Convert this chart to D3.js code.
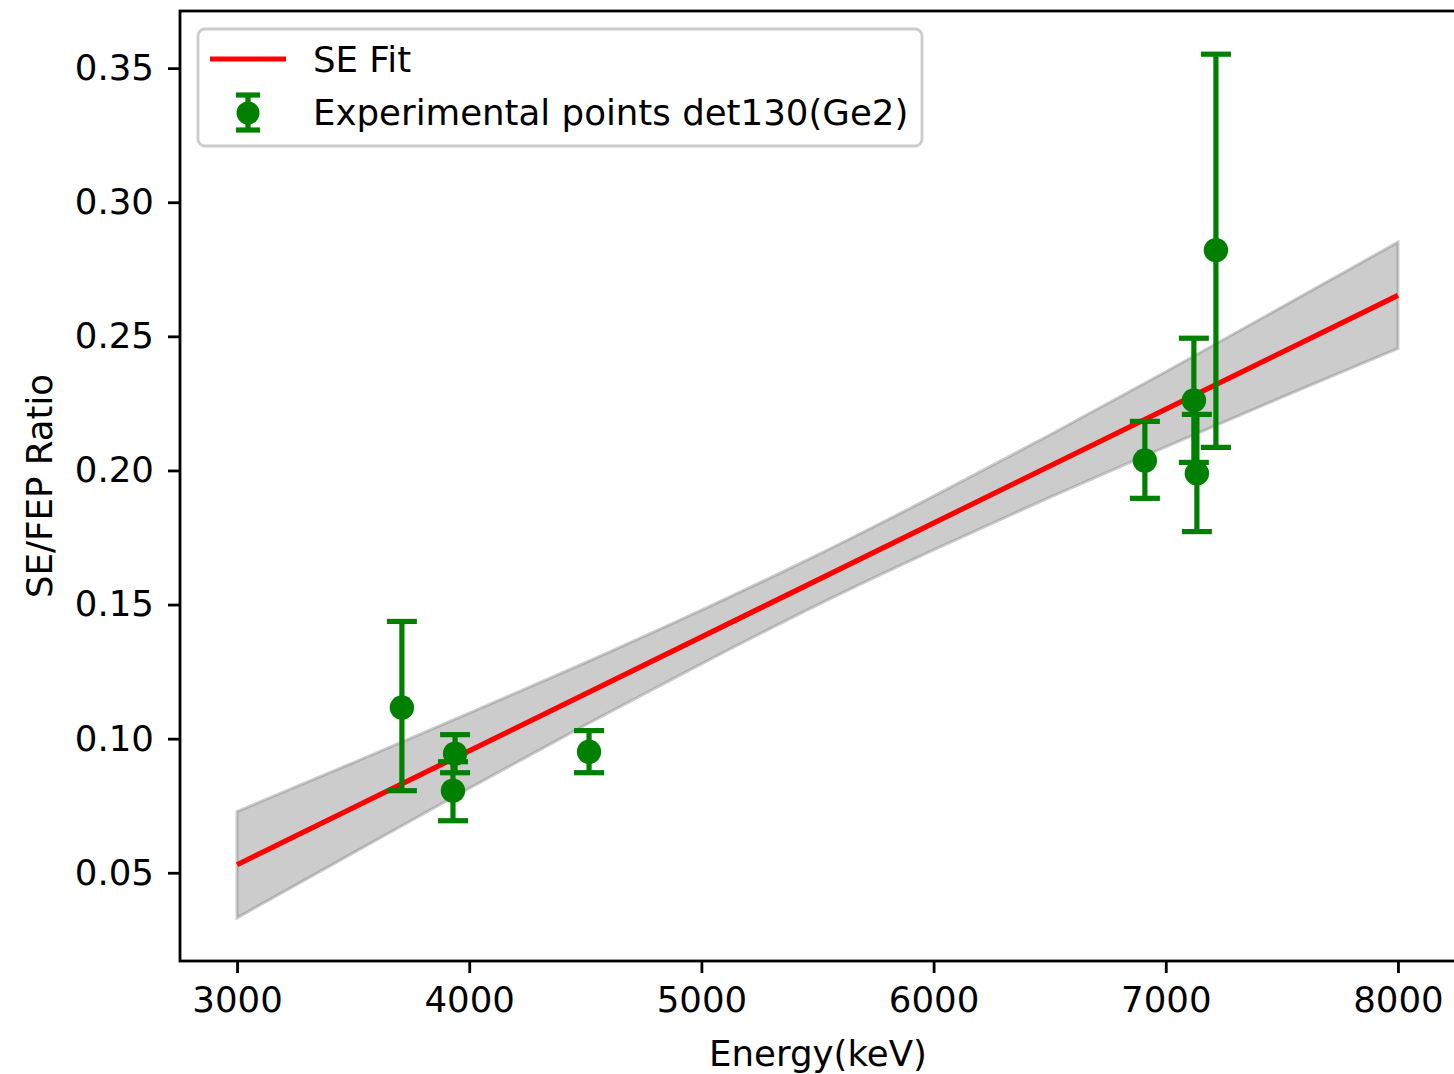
<!DOCTYPE html>
<html>
<head>
<meta charset="utf-8">
<script src="https://cdn.jsdelivr.net/npm/d3@7"></script>
<style>
  html, body { margin: 0; padding: 0; background: #fff; }
  svg { display: block; }
  text { font-family: "DejaVu Sans", sans-serif; fill: #000; }
</style>
</head>
<body>
<svg id="chart" width="1454" height="1074"></svg>
<script>
// ---- data ----
const pointEnergy = [3710, 3939, 3930, 4516, 6910, 7121, 7134, 7216];
const pointRatio  = [0.1116, 0.0944, 0.0806, 0.0951, 0.2037, 0.2261, 0.1989, 0.2821];
const pointErrLow = [0.0806, 0.0873, 0.0694, 0.0873, 0.1896, 0.2030, 0.1772, 0.2086];
const pointErrHigh= [0.1437, 0.1015, 0.0914, 0.1030, 0.2183, 0.2493, 0.2209, 0.3552];

const fitEnergy = [3000, 8000];
const fitRatio  = [0.0530, 0.2653];

const bandEnergy = [3000, 3500, 4000, 4500, 5000, 5500, 6000, 6500, 7000, 7500, 8000];
const bandLower  = [0.0332, 0.0574, 0.0815, 0.1051, 0.1279, 0.1499, 0.1704, 0.1900, 0.2088, 0.2273, 0.2455];
const bandUpper  = [0.0728, 0.0910, 0.1095, 0.1283, 0.1479, 0.1685, 0.1904, 0.2132, 0.2368, 0.2609, 0.2851];

const xTicks = [3000, 4000, 5000, 6000, 7000, 8000];
const yTicks = [0.05, 0.10, 0.15, 0.20, 0.25, 0.30, 0.35];

const xLabel = "Energy(keV)";
const yLabel = "SE/FEP Ratio";
const legendLabels = ["SE Fit", "Experimental points det130(Ge2)"];

// ---- layout ----
const svg = d3.select("#chart");
const pL = 180, pR = 1456, pT = 11, pB = 961;
const fs = 35.6;

const x = d3.scaleLinear().domain([2750, 8250]).range([179, 1456]);
const y = d3.scaleLinear().domain([0.0171, 0.3713]).range([pB, pT]);

const plot = svg.append("g");

// band
const bandData = bandEnergy.map((e, i) => ({e, lo: bandLower[i], hi: bandUpper[i]}));
plot.append("path")
  .datum(bandData)
  .attr("d", d3.area().curve(d3.curveMonotoneX).x(d => x(d.e)).y0(d => y(d.lo)).y1(d => y(d.hi)))
  .attr("fill", "gray").attr("fill-opacity", 0.4)
  .attr("stroke", "gray").attr("stroke-opacity", 0.4).attr("stroke-width", 3);

// fit line
plot.append("path")
  .datum(fitEnergy.map((e, i) => ({e, v: fitRatio[i]})))
  .attr("d", d3.line().x(d => x(d.e)).y(d => y(d.v)))
  .attr("fill", "none").attr("stroke", "red").attr("stroke-width", 5.2);

// error bars
const pts = pointEnergy.map((e, i) => ({e, v: pointRatio[i], lo: pointErrLow[i], hi: pointErrHigh[i]}));
const cap = 15;
const eb = plot.append("g").attr("stroke", "green").attr("stroke-width", 5.2);
pts.forEach(p => {
  eb.append("line").attr("x1", x(p.e)).attr("x2", x(p.e)).attr("y1", y(p.lo)).attr("y2", y(p.hi));
  eb.append("line").attr("x1", x(p.e) - cap).attr("x2", x(p.e) + cap).attr("y1", y(p.lo)).attr("y2", y(p.lo));
  eb.append("line").attr("x1", x(p.e) - cap).attr("x2", x(p.e) + cap).attr("y1", y(p.hi)).attr("y2", y(p.hi));
});
plot.append("g").selectAll("circle").data(pts).join("circle")
  .attr("cx", d => x(d.e)).attr("cy", d => y(d.v)).attr("r", 12.2)
  .attr("fill", "green");

// axes
const xAxis = svg.append("g").attr("transform", `translate(0,${pB})`)
  .call(d3.axisBottom(x).tickValues(xTicks).tickFormat(d3.format("d")).tickSize(12).tickPadding(14));
const yAxis = svg.append("g").attr("transform", `translate(${pL},0)`)
  .call(d3.axisLeft(y).tickValues(yTicks).tickFormat(d3.format(".2f")).tickSize(12).tickPadding(14));
[xAxis, yAxis].forEach(a => {
  a.attr("font-size", fs).attr("font-family", "DejaVu Sans");
  a.selectAll("text").attr("font-size", fs).attr("font-family", "DejaVu Sans").attr("fill", "#000");
  a.selectAll("line").attr("stroke", "#000").attr("stroke-width", 2.8);
  a.select(".domain").remove();
});

// spines
const sp = svg.append("g").attr("stroke", "#000").attr("stroke-width", 2.8).attr("fill", "none");
sp.append("rect").attr("x", pL).attr("y", pT).attr("width", pR - pL).attr("height", pB - pT);

// axis labels
svg.append("text").attr("x", (pL + pR) / 2).attr("y", 1066)
  .attr("text-anchor", "middle").attr("font-size", fs).text(xLabel);
svg.append("text").attr("transform", `translate(52,${(pT + pB) / 2}) rotate(-90)`)
  .attr("text-anchor", "middle").attr("font-size", fs).text(yLabel);

// legend
const lg = svg.append("g");
lg.append("rect").attr("x", 198).attr("y", 29).attr("width", 724).attr("height", 117)
  .attr("rx", 7).attr("fill", "#fff").attr("fill-opacity", 0.8)
  .attr("stroke", "#cccccc").attr("stroke-width", 2.8);
lg.append("line").attr("x1", 210).attr("x2", 286).attr("y1", 59).attr("y2", 59)
  .attr("stroke", "red").attr("stroke-width", 5.2);
lg.append("line").attr("x1", 248).attr("x2", 248).attr("y1", 95).attr("y2", 130)
  .attr("stroke", "green").attr("stroke-width", 5.2);
lg.append("line").attr("x1", 236).attr("x2", 260).attr("y1", 95).attr("y2", 95)
  .attr("stroke", "green").attr("stroke-width", 5.2);
lg.append("line").attr("x1", 236).attr("x2", 260).attr("y1", 130).attr("y2", 130)
  .attr("stroke", "green").attr("stroke-width", 5.2);
lg.append("circle").attr("cx", 248).attr("cy", 113).attr("r", 11.5).attr("fill", "green");
lg.append("text").attr("x", 313).attr("y", 72).attr("font-size", fs).text(legendLabels[0]);
lg.append("text").attr("x", 313).attr("y", 125).attr("font-size", fs).text(legendLabels[1]);
</script>
</body>
</html>
